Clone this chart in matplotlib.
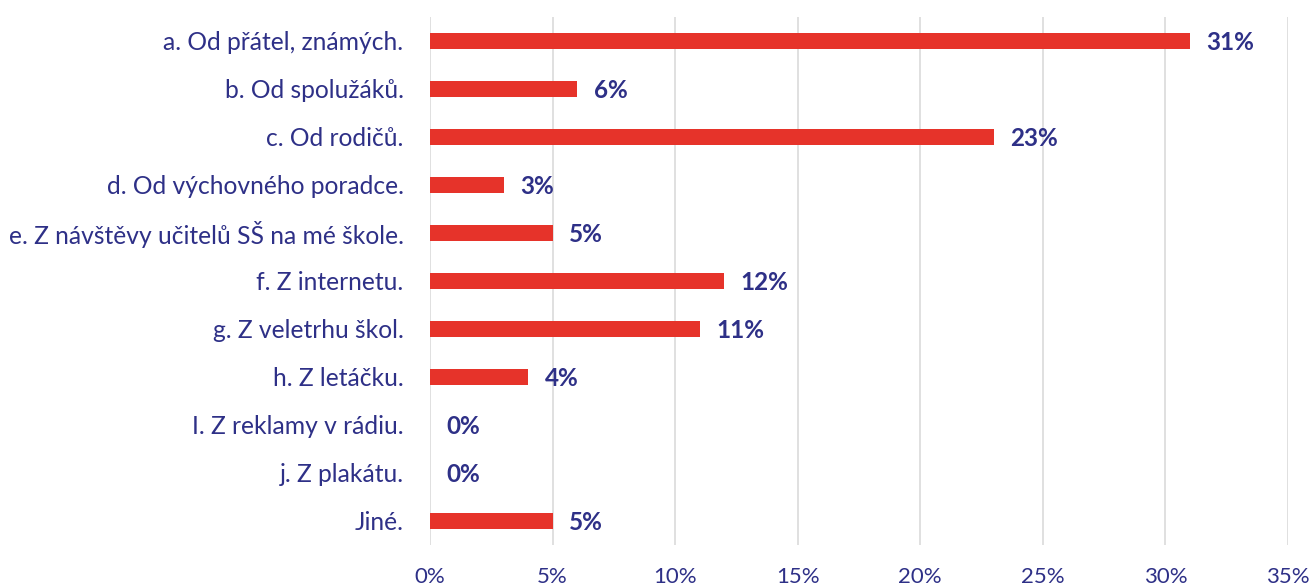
import numpy as np
import matplotlib.pyplot as plt

categories = ['a. Od přátel, známých.', 'b. Od spolužáků.', 'c. Od rodičů.',
              'd. Od výchovného poradce.', 'e. Z návštěvy učitelů SŠ na mé škole.',
              'f. Z internetu.', 'g. Z veletrhu škol.', 'h. Z letáčku.',
              'I. Z reklamy v rádiu.', 'j. Z plakátu.', 'Jiné.']
values = [31, 6, 23, 3, 5, 12, 11, 4, 0, 0, 5]
xticks = [0, 5, 10, 15, 20, 25, 30, 35]

red = '#E6332A'
navy = '#2E3087'

plt.rcParams['font.family'] = ['Lato', 'DejaVu Sans']

fig = plt.figure(figsize=(13.12, 5.85), dpi=100)
ax = fig.add_axes([430 / 1312, 40 / 585, 858 / 1312, 528 / 585])

y = np.arange(len(categories))
ax.barh(y, values, height=0.35, color=red, zorder=2)
for yi, v in zip(y, values):
    ax.annotate(f'{v}%', (v, yi), xytext=(12, -1), textcoords='offset points',
                va='center', ha='left', fontsize=17.5, fontweight='bold', color=navy)

ax.set_xlim(0, 35)
ax.set_ylim(len(categories) - 0.5, -0.5)
ax.set_yticks(y)
ax.set_yticklabels(categories, fontsize=17.7, color=navy)
ax.set_xticks(xticks)
ax.set_xticklabels([f'{t}%' for t in xticks], fontsize=16, color=navy)
ax.tick_params(length=0)
ax.tick_params(axis='y', pad=19)
ax.tick_params(axis='x', pad=16)
ax.grid(axis='x', color='#DDDDDD', linewidth=1.3, zorder=0)
for s in ax.spines.values():
    s.set_visible(False)

fig.savefig('out.png', dpi=100)
